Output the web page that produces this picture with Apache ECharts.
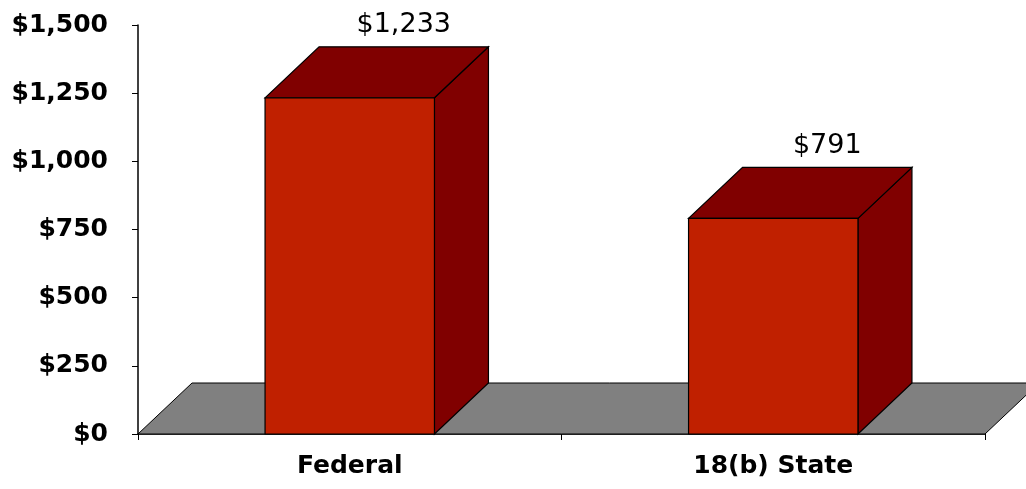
<!DOCTYPE html>
<html>
<head>
<meta charset="utf-8">
<script src="https://cdn.jsdelivr.net/npm/echarts@6/dist/echarts.min.js"></script>
<style>
  html, body { margin: 0; padding: 0; background: #fff; }
  #chart { width: 1026px; height: 489px; }
</style>
</head>
<body>
<div id="chart"></div>
<script>
var categories = ['Federal', '18(b) State'];
var values = [1233, 791];
var yTicks = [0, 250, 500, 750, 1000, 1250, 1500];

var DX = 54, DY = -51;
var FONT = '"DejaVu Sans", Verdana, sans-serif';

function money(v) {
    return '$' + String(v).replace(/\B(?=(\d{3})+(?!\d))/g, ',');
}

var chart = echarts.init(document.getElementById('chart'));

var option = {
    animation: false,
    grid: { left: 138, right: 41, top: 25, bottom: 55 },
    xAxis: {
        type: 'category',
        data: categories,
        axisLine: { lineStyle: { color: '#000', width: 1.5 } },
        axisTick: { show: true, length: 6, lineStyle: { color: '#000' } },
        axisLabel: { color: '#000', fontFamily: FONT, fontWeight: 'bold', fontSize: 25, margin: 20 }
    },
    yAxis: {
        type: 'value',
        min: yTicks[0],
        max: yTicks[yTicks.length - 1],
        interval: 250,
        splitLine: { show: false },
        axisLine: { show: true, lineStyle: { color: '#000', width: 1.5 } },
        axisTick: { show: true, length: 6, lineStyle: { color: '#000' } },
        axisLabel: { color: '#000', fontFamily: FONT, fontWeight: 'bold', fontSize: 25, margin: 30, formatter: money }
    },
    series: [
        {
            // grey floor
            type: 'custom',
            z: 1,
            clip: false,
            data: [[0, 0]],
            renderItem: function (params, api) {
                var cs = params.coordSys;
                var y0 = api.coord([0, 0])[1];
                return {
                    type: 'polygon',
                    shape: { points: [
                        [cs.x, y0], [cs.x + cs.width, y0],
                        [cs.x + cs.width + DX, y0 + DY], [cs.x + DX, y0 + DY]
                    ] },
                    style: { fill: '#808080', stroke: '#000', lineWidth: 1 }
                };
            }
        },
        {
            type: 'custom',
            z: 2,
            clip: false,
            data: values.map(function (v, i) { return [i, v]; }),
            renderItem: function (params, api) {
                var top = api.coord([api.value(0), api.value(1)]);
                var base = api.coord([api.value(0), 0]);
                var w = api.size([1, 0])[0] * 0.4;
                var x0 = top[0] - w / 2, x1 = top[0] + w / 2;
                var yt = top[1], yb = base[1];
                var edge = { stroke: '#000', lineWidth: 1.2 };
                return {
                    type: 'group',
                    children: [
                        {
                            type: 'polygon',
                            shape: { points: [[x1, yb], [x1 + DX, yb + DY], [x1 + DX, yt + DY], [x1, yt]] },
                            style: Object.assign({ fill: '#800000' }, edge)
                        },
                        {
                            type: 'polygon',
                            shape: { points: [[x0, yt], [x1, yt], [x1 + DX, yt + DY], [x0 + DX, yt + DY]] },
                            style: Object.assign({ fill: '#800000' }, edge)
                        },
                        {
                            type: 'rect',
                            shape: { x: x0, y: yt, width: w, height: yb - yt },
                            style: Object.assign({ fill: '#C02000' }, edge)
                        },
                        {
                            type: 'text',
                            x: top[0] + DX,
                            y: yt + DY - 8,
                            style: {
                                text: money(api.value(1)),
                                fill: '#000',
                                font: '500 27px ' + FONT,
                                align: 'center',
                                verticalAlign: 'bottom'
                            }
                        }
                    ]
                };
            }
        }
    ]
};

chart.setOption(option);
</script>
</body>
</html>
